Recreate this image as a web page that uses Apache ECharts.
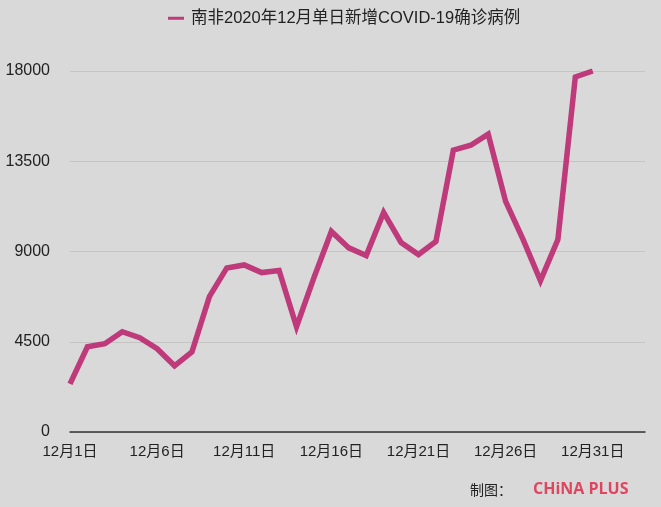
<!DOCTYPE html>
<html>
<head>
<meta charset="utf-8">
<script src="https://cdn.jsdelivr.net/npm/echarts@6/dist/echarts.min.js"></script>
<style>html,body{margin:0;padding:0;background:#d9d9d9;}#c{width:661px;height:507px;}</style>
</head>
<body>
<div id="c"></div>
<script>
const seriesName = '南非2020年12月单日新增COVID-19确诊病例';
const days = ['12月1日','12月2日','12月3日','12月4日','12月5日','12月6日','12月7日','12月8日','12月9日','12月10日','12月11日','12月12日','12月13日','12月14日','12月15日','12月16日','12月17日','12月18日','12月19日','12月20日','12月21日','12月22日','12月23日','12月24日','12月25日','12月26日','12月27日','12月28日','12月29日','12月30日','12月31日'];
const padCategories = ['', '', ''];
const cases = [2400,4250,4400,5000,4700,4150,3300,4000,6750,8180,8330,7950,8050,5250,7700,10000,9180,8800,10950,9450,8850,9500,14050,14300,14850,11500,9600,7550,9600,17700,18000];
const yTicks = {min: 0, max: 18000, interval: 4500};

const chart = echarts.init(document.getElementById('c'));
const font = "'Liberation Sans','Noto Sans CJK SC',sans-serif";
chart.setOption({
  backgroundColor: '#d9d9d9',
  textStyle: {fontFamily: font},
  legend: {
    top: 5, left: 163,
    icon: 'rect', itemWidth: 16, itemHeight: 3, itemGap: 10,
    textStyle: {fontSize: 16.5, color: '#222', fontFamily: font, padding: [0,0,0,2]},
    data: [seriesName]
  },
  grid: {left: 70, right: 16, top: 71, bottom: 75},
  xAxis: {
    type: 'category',
    boundaryGap: false,
    data: days.concat(padCategories),
    axisLine: {lineStyle: {color: '#333', width: 1.5}},
    axisTick: {show: false},
    axisLabel: {interval: 4, color: '#222', fontSize: 15, margin: 12, fontFamily: font}
  },
  yAxis: {
    type: 'value',
    min: yTicks.min, max: yTicks.max, interval: yTicks.interval,
    axisLine: {show: false},
    axisTick: {show: false},
    axisLabel: {color: '#222', fontSize: 16, margin: 20, fontFamily: font, formatter: v => String(v)},
    splitLine: {lineStyle: {color: '#c4c4c4', width: 1}}
  },
  series: [{
    name: seriesName,
    type: 'line',
    data: cases,
    symbol: 'none',
    lineStyle: {width: 5.5, color: '#bf3a7a', join: 'miter'},
    itemStyle: {color: '#bf3a7a'}
  }],
  graphic: [
    {type: 'text', left: 470, top: 483, style: {text: '制图：', fill: '#222', font: "14px 'Noto Sans CJK SC'"}},
    {type: 'text', left: 533, top: 481, style: {text: 'CHiNA PLUS', fill: '#e0455f', font: "bold 16px 'Open Sans','Liberation Sans',sans-serif"}}
  ]
});
</script>
</body>
</html>
